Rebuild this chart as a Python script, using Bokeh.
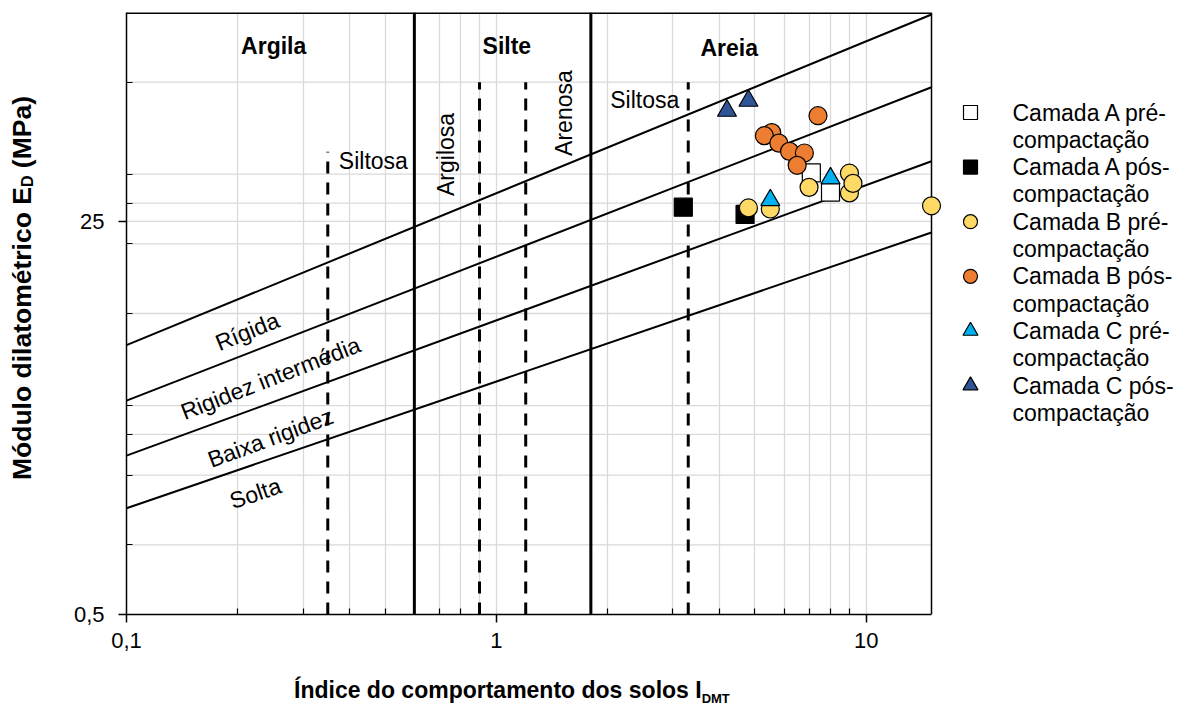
import math
from bokeh.plotting import figure
from bokeh.layouts import row, column
from bokeh.models import Range1d, FixedTicker, Label, CustomJSTickFormatter, Div
from bokeh.embed import file_html
from bokeh.resources import INLINE

# ---------------- data ----------------
camada_a_pre_x = [7.1, 8.0]
camada_a_pre_y = [40.5, 33.5]
camada_a_pos_x = [3.2, 4.7]
camada_a_pos_y = [28.8, 26.8]
camada_b_pre_x = [4.8, 5.5, 7.0, 9.0, 9.0, 9.2, 15.0]
camada_b_pre_y = [28.6, 28.3, 35.1, 40.4, 33.2, 36.5, 29.2]
camada_b_pos_x = [7.4, 5.55, 5.3, 5.8, 6.2, 6.8, 6.5]
camada_b_pos_y = [71.6, 60.5, 58.7, 54.5, 50.2, 49.4, 43.7]
camada_c_pre_x = [5.5, 8.0]
camada_c_pre_y = [30.9, 38.4]
camada_c_pos_x = [4.2, 4.8]
camada_c_pos_y = [75.2, 83.1]

# stiffness boundary lines (end points)
line_x = [0.1, 15]
rigida_y = [7.3, 196]
intermedia_y = [4.2, 95]
baixa_y = [2.43, 45.5]
solta_y = [1.44, 22.4]

# soil-type boundaries (I_DMT)
solid_bounds_x = [0.6, 1.8]
dashed_bounds_x = [0.35, 0.9, 1.2, 3.3]
dashed_bounds_top = [50, 100, 100, 100]

x_major = [0.1, 1, 10]
x_minor = [0.2, 0.3, 0.4, 0.5, 0.6, 0.7, 0.8, 0.9, 2, 3, 4, 5, 6, 7, 8, 9]
y_major = [0.5, 25]
y_minor = [1, 2, 3, 4, 10, 20, 30, 40, 100]

series_names = [
    ("Camada A pré-", "compactação"),
    ("Camada A pós-", "compactação"),
    ("Camada B pré-", "compactação"),
    ("Camada B pós-", "compactação"),
    ("Camada C pré-", "compactação"),
    ("Camada C pós-", "compactação"),
]

# ---------------- layout ----------------
FONT = "Liberation Sans"
X_MIN, X_MAX = 0.1, 15
Y_MIN, Y_MAX = 0.5, 200
YT_W = 50                 # width of the y-title strip
FIG_W, FIG_H = 1136, 660
FRAME_LEFT_PAGE = 126
FRAME_TOP_PAGE = 12
FRAME_BOTTOM_PAGE = 614
DATA_W = 805              # pixels from 0.1 to 15
FRAME_W = 1054            # frame extended to the right to host the legend
FRAME_H = FRAME_BOTTOM_PAGE - FRAME_TOP_PAGE
x_end = X_MIN * 10 ** (FRAME_W / DATA_W * math.log10(X_MAX / X_MIN))
MB_LEFT = FRAME_LEFT_PAGE - YT_W
MB_RIGHT = FIG_W - MB_LEFT - FRAME_W
MB_BOTTOM = FIG_H - FRAME_TOP_PAGE - FRAME_H


def page_x(px):
    return X_MIN * 10 ** ((px - FRAME_LEFT_PAGE) / DATA_W * math.log10(X_MAX / X_MIN))


def page_y(py):
    return Y_MIN * 10 ** ((FRAME_BOTTOM_PAGE - py) / FRAME_H * math.log10(Y_MAX / Y_MIN))


p = figure(width=FIG_W, height=FIG_H, x_axis_type="log", y_axis_type="log",
           x_range=Range1d(X_MIN, x_end), y_range=Range1d(Y_MIN, Y_MAX),
           output_backend="svg", toolbar_location=None,
           min_border_left=MB_LEFT, min_border_right=MB_RIGHT,
           min_border_top=FRAME_TOP_PAGE, min_border_bottom=MB_BOTTOM, margin=0)
p.outline_line_color = None
p.background_fill_color = "white"
p.border_fill_color = "white"

GRID = "#D9D9D9"
p.ygrid.visible = False
p.xgrid.ticker = FixedTicker(ticks=x_major + x_minor)
p.xgrid.grid_line_color = GRID
p.xgrid.grid_line_width = 1.3
n = len(y_minor)
p.segment(x0=[X_MIN] * n, x1=[X_MAX] * n, y0=y_minor, y1=y_minor,
          line_color=GRID, line_width=1.3)
p.segment(x0=[X_MIN], x1=[X_MAX], y0=[25], y1=[25], line_color=GRID, line_width=1.3)

fmt = CustomJSTickFormatter(code="return tick.toString().replace('.', ',')")
for ax, maj, mnr in ((p.xaxis, x_major, x_minor), (p.yaxis, y_major, y_minor)):
    ax.ticker = FixedTicker(ticks=maj, minor_ticks=mnr)
    ax.formatter = fmt
    ax.axis_line_color = "black"
    ax.axis_line_width = 1.5
    ax.major_tick_line_color = "black"
    ax.major_tick_line_width = 1.5
    ax.minor_tick_line_color = "black"
    ax.minor_tick_line_width = 1.2
    ax.major_tick_in = 0
    ax.major_tick_out = 8
    ax.minor_tick_in = 6
    ax.minor_tick_out = 0
    ax.major_label_text_font = FONT
    ax.major_label_text_font_size = "22px"
    ax.major_label_text_color = "black"
p.xaxis.bounds = (X_MIN, X_MAX)
p.xaxis.major_label_standoff = 10
p.yaxis.major_label_standoff = 14

# frame top & right
p.line([X_MIN, X_MAX], [Y_MAX, Y_MAX], line_color="black", line_width=3)
p.line([X_MAX, X_MAX], [Y_MIN, Y_MAX], line_color="black", line_width=1.5)

# boundaries
for xv in solid_bounds_x:
    p.line([xv, xv], [Y_MIN, Y_MAX], line_color="black", line_width=3)
for xv, top in zip(dashed_bounds_x, dashed_bounds_top):
    p.line([xv, xv], [Y_MIN, top], line_color="black", line_width=3, line_dash="12 9")
for ys in (rigida_y, intermedia_y, baixa_y, solta_y):
    p.line(line_x, ys, line_color="black", line_width=2)

# data series
OUT = "black"
p.scatter(camada_a_pre_x, camada_a_pre_y, marker="square", size=18, fill_color="white", line_color=OUT, line_width=1.2)
p.scatter(camada_a_pos_x, camada_a_pos_y, marker="square", size=18, fill_color="black", line_color=OUT, line_width=1.2)
p.scatter(camada_b_pre_x, camada_b_pre_y, marker="circle", size=18, fill_color="#FFD966", line_color=OUT, line_width=1.2)
p.scatter(camada_b_pos_x, camada_b_pos_y, marker="circle", size=18, fill_color="#ED7D31", line_color=OUT, line_width=1.2)
p.scatter(camada_c_pre_x, camada_c_pre_y, marker="triangle", size=19, fill_color="#00B0F0", line_color=OUT, line_width=1.2)
p.scatter(camada_c_pos_x, camada_c_pos_y, marker="triangle", size=19, fill_color="#2F5597", line_color=OUT, line_width=1.2)


def add_label(x, y, text, size="23px", style="normal", align="center", angle=0.0):
    p.add_layout(Label(x=x, y=y, text=text, text_font=FONT, text_font_size=size,
                       text_font_style=style, text_align=align, text_baseline="middle",
                       angle=angle, text_color="black"))


add_label(0.25, 143, "Argila", style="bold")
add_label(1.067, 143, "Silte", style="bold")
add_label(4.26, 140, "Areia", style="bold")
add_label(0.375, 45.4, "Siltosa", align="left")
add_label(0.73, 48.7, "Argilosa", angle=math.pi / 2)
add_label(1.526, 73.5, "Arenosa", angle=math.pi / 2)
add_label(3.12, 83.4, "Siltosa", align="right")
add_label(0.212, 8.36, "Rígida", angle=math.radians(22))
add_label(0.245, 5.25, "Rigidez intermédia", angle=math.radians(21.3))
add_label(0.245, 2.90, "Baixa rigidez", angle=math.radians(20.2))
add_label(0.223, 1.67, "Solta", angle=math.radians(18.8))


def screen_label(sx, sy, text, size="23px"):
    p.add_layout(Label(x=sx, y=sy, x_units="screen", y_units="screen", text=text,
                       text_font=FONT, text_font_size=size, text_align="left",
                       text_baseline="middle", text_color="black"))


# legend (manual, inside the extended frame)
leg_markers = [("square", "white", 14), ("square", "black", 14), ("circle", "#FFD966", 14),
               ("circle", "#ED7D31", 14), ("triangle", "#00B0F0", 15), ("triangle", "#2F5597", 15)]
ROW0, ROW_H = 112, 27.3
for i, ((l1, l2), (mk, col, sz)) in enumerate(zip(series_names, leg_markers)):
    yc = ROW0 + 2 * i * ROW_H
    p.scatter([page_x(970)], [page_y(yc)], marker=mk, size=sz, fill_color=col,
              line_color="black", line_width=1.2)
    screen_label(1012 - FRAME_LEFT_PAGE, FRAME_BOTTOM_PAGE - yc, l1)
    screen_label(1012 - FRAME_LEFT_PAGE, FRAME_BOTTOM_PAGE - (yc + ROW_H), l2)

# axis titles with subscripts (HTML)
BASE_CSS = ("white-space:nowrap;font-family:Liberation Sans,Arial,sans-serif;"
            "font-weight:bold;line-height:28px;color:#000;")
x_title = Div(width=FIG_W, height=707 - FIG_H, margin=0,
              text=(f'<div style="position:relative;width:{FIG_W}px;height:{707 - FIG_H}px;">'
                    f'<div style="position:absolute;left:{294 - YT_W}px;top:16px;{BASE_CSS}font-size:23px;">'
                    f'Índice do comportamento dos solos I'
                    f'<span style="font-size:13px;vertical-align:-5px;">DMT</span></div></div>'))
y_title = Div(width=YT_W, height=707, margin=0,
              text=(f'<div style="position:relative;width:{YT_W}px;height:707px;">'
                    f'<div style="position:absolute;left:8px;bottom:{707 - 480}px;'
                    f'writing-mode:vertical-rl;transform:rotate(180deg);{BASE_CSS}font-size:26.5px;">'
                    f'Módulo dilatométrico E'
                    f'<span style="font-size:16px;vertical-align:-6px;">D</span> (MPa)</div></div>'))

layout = row(y_title, column(p, x_title, spacing=0, margin=0), spacing=0, margin=0)
open("out.html", "w").write(file_html(layout, INLINE))
